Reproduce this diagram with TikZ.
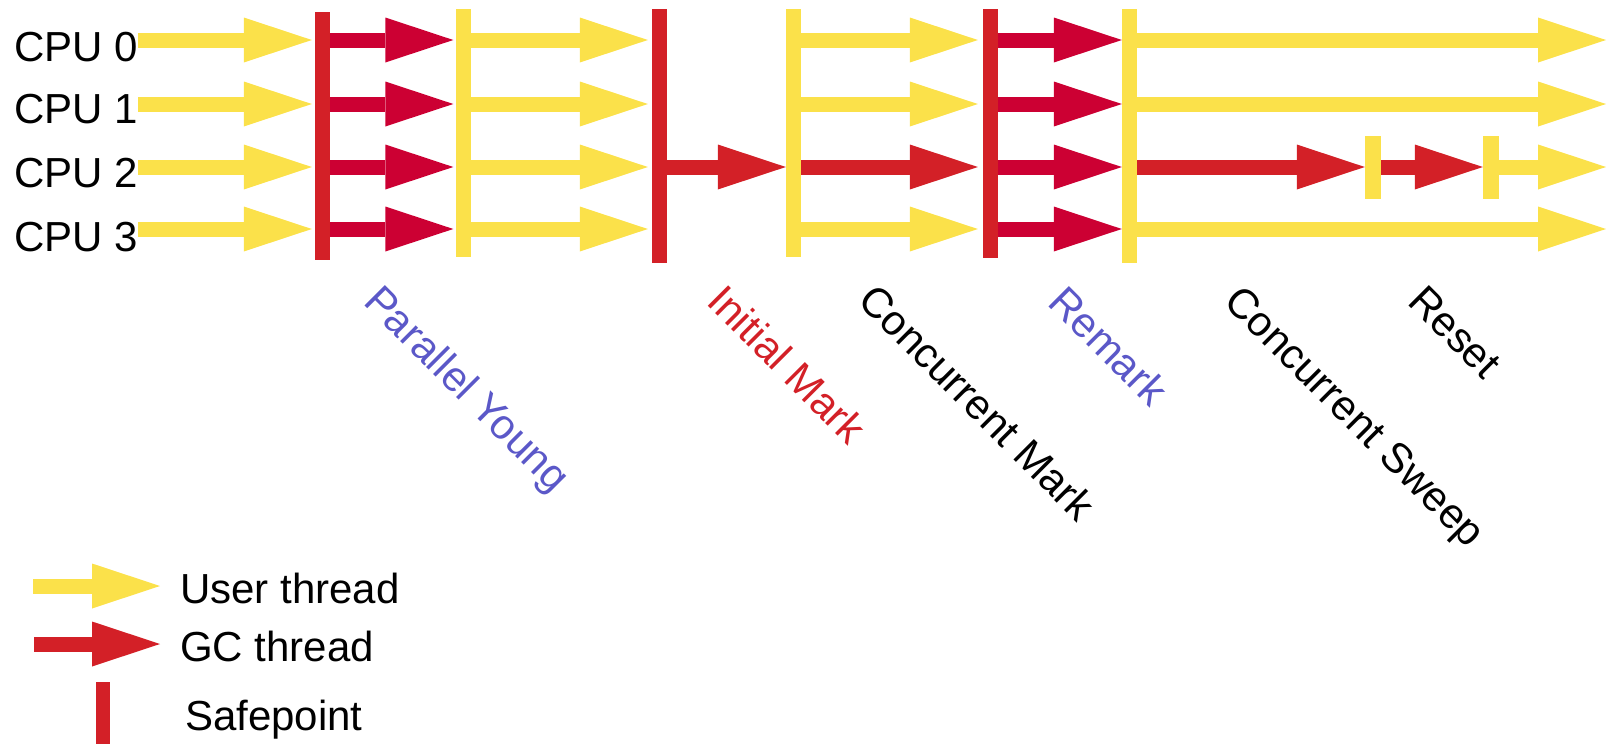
\documentclass[tikz,border=0pt]{standalone}
\usepackage{fontspec}
\setmainfont{Liberation Sans}
\usetikzlibrary{arrows.meta}
\definecolor{userY}{HTML}{FBE14A}
\definecolor{safeR}{HTML}{D32027}
\definecolor{gcR}{HTML}{CC0033}
\definecolor{phaseB}{HTML}{5B58C8}

\begin{document}
\begin{tikzpicture}[x=1pt,y=-1pt,
  thread/.style={line width=15pt, -{Triangle[length=68pt,width=45pt,line width=0pt]}},
  userarrow/.style={thread, draw=userY},
  gcarrow/.style={thread, draw=gcR},
  redarrow/.style={thread, draw=safeR},
  bar/.style={rectangle, draw=none, inner sep=0pt, minimum width=15pt, minimum height=#1},
  safebar/.style={bar=#1, fill=safeR},
  userbar/.style={bar=#1, fill=userY},
  cpulabel/.style={anchor=base east, inner sep=0pt, font=\fontsize{42}{50}\selectfont},
  legendtext/.style={anchor=base west, inner sep=0pt, font=\fontsize{42}{50}\selectfont},
  phase/.style={anchor=base west, inner sep=0pt, rotate=-45, font=\fontsize{42}{50}\selectfont}
]
\useasboundingbox (0,0) rectangle (1612,744);

% rows of the four CPUs
\foreach \i/\y in {0/40,1/104,2/167,3/229}
  \coordinate (r\i) at (0,\y);
\coordinate (tipend) at (1606,0);

% CPU names
\node[cpulabel] (cpu0) at (138,61) {CPU 0};
\node[cpulabel] (cpu1) at (138,123) {CPU 1};
\node[cpulabel] (cpu2) at (138,187) {CPU 2};
\node[cpulabel] (cpu3) at (138,251) {CPU 3};

% safepoints and phase boundaries
\node[safebar=248] (b1) at (322.5,136) {};
\node[userbar=248] (b2) at (463,133) {};
\node[safebar=254] (b3) at (659.5,136) {};
\node[userbar=248] (b4) at (793.5,133) {};
\node[safebar=249] (b5) at (990.5,133.5) {};
\node[userbar=254] (b6) at (1129.5,136) {};
\node[userbar=63, minimum width=16pt] (s1) at (1373,167.5) {};
\node[userbar=63, minimum width=16pt] (s2) at (1491,167.5) {};

% user threads before the young collection
\foreach \i in {0,...,3}
  \draw[userarrow, shorten >=3pt] (cpu\i.east |- r\i) -- (b1.west |- r\i);
% parallel young GC threads
\foreach \i in {0,...,3}
  \draw[gcarrow, shorten >=2pt] (b1.east |- r\i) -- (b2.west |- r\i);
% user threads resume
\foreach \i in {0,...,3}
  \draw[userarrow, shorten >=4pt] (b2.east |- r\i) -- (b3.west |- r\i);
% initial mark
\draw[redarrow] (b3.east |- r2) -- (b4.west |- r2);
% concurrent mark
\foreach \i in {0,1,3}
  \draw[userarrow, shorten >=5pt] (b4.east |- r\i) -- (b5.west |- r\i);
\draw[redarrow, shorten >=5pt] (b4.east |- r2) -- (b5.west |- r2);
% remark
\foreach \i in {0,...,3}
  \draw[gcarrow] (b5.east |- r\i) -- (b6.west |- r\i);
% concurrent sweep and reset
\foreach \i in {0,1,3}
  \draw[userarrow] (b6.east |- r\i) -- (tipend |- r\i);
\draw[redarrow] (b6.east |- r2) -- (s1.west |- r2);
\draw[redarrow] (s1.east |- r2) -- (s2.west |- r2);
\draw[userarrow] (s2.east |- r2) -- (tipend |- r2);

% phase names
\node[phase, text=phaseB] (pyoung) at (362,303) {Parallel Young};
\node[phase, text=safeR] (pinit) at (705,303) {Initial Mark};
\node[phase] (pcmark) at (856,302) {Concurrent Mark};
\node[phase, text=phaseB] (premark) at (1046,304) {Remark};
\node[phase] (psweep) at (1222,303) {Concurrent Sweep};
\node[phase] (preset) at (1406,303) {Reset};

% legend
\coordinate (lu0) at (33,586);
\coordinate (lu1) at (160,586);
\coordinate (lg0) at (34,644);
\coordinate (lg1) at (160,644);
\draw[userarrow] (lu0) -- (lu1);
\draw[redarrow] (lg0) -- (lg1);
\node[safebar=62, minimum width=14pt] (lsafe) at (103,713) {};
\node[legendtext] (luser) at (180,603) {User thread};
\node[legendtext] (lgc) at (180,661) {GC thread};
\node[legendtext] (lsp) at (185,730) {Safepoint};
\end{tikzpicture}
\end{document}
